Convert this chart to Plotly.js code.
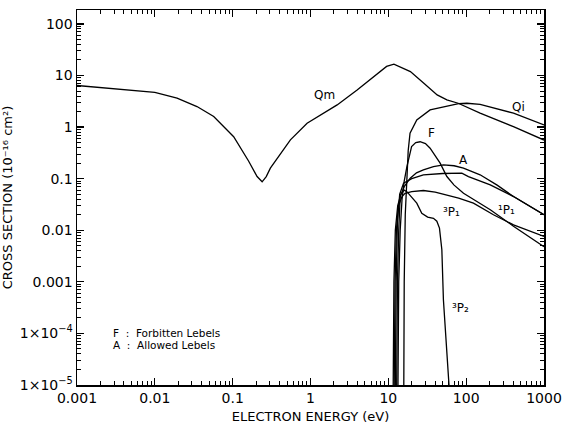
<!DOCTYPE html>
<html>
<head>
<meta charset="utf-8">
<script src="https://cdn.plot.ly/plotly-3.0.1.min.js"></script>
<style>html,body{margin:0;padding:0;background:#fff;}#chart{width:562px;height:432px;}</style>
</head>
<body>
<div id="chart"></div>
<script>
// ---- data ----
const qmE = [0.001, 0.01, 0.0193, 0.0348, 0.0571, 0.103, 0.16, 0.206, 0.239, 0.27, 0.305, 0.4, 0.552, 0.904, 2.2, 3.97, 6.5, 9.5, 11.8, 15, 19.2, 28.6, 42.4, 56.5, 79, 151, 405, 1000];
const qmQ = [6.4, 4.7, 3.63, 2.5, 1.6, 0.65, 0.22, 0.11, 0.087, 0.11, 0.16, 0.28, 0.565, 1.19, 2.69, 5.26, 9.5, 15, 16.6, 14, 11.9, 7.1, 4.2, 3.37, 2.9, 1.86, 1.02, 0.56];

const qiE = [15.8, 16.0, 16.5, 17.2, 18, 19, 23.2, 34.4, 56.5, 80, 102, 151, 406, 1000];
const qiQ = [1e-5, 1e-3, 0.02, 0.12, 0.35, 0.76, 1.38, 2.15, 2.57, 2.85, 2.9, 2.76, 1.86, 1.1];

const fE = [13.3, 13.6, 14.2, 15, 16, 17.3, 19.9, 22.5, 25.6, 30, 34.4, 40, 46.3, 56.5, 70, 92.5, 140, 204, 405, 1000];
const fQ = [1e-5, 1e-3, 0.01, 0.04, 0.09, 0.17, 0.42, 0.5, 0.52, 0.48, 0.39, 0.28, 0.2, 0.11, 0.075, 0.052, 0.035, 0.025, 0.012, 0.0048];

const aE = [12.8, 13.1, 13.6, 14.2, 16, 19.1, 23, 28.2, 38, 51, 70, 92.4, 151, 250, 406, 1000];
const aQ = [1e-5, 1e-3, 0.01, 0.045, 0.07, 0.102, 0.13, 0.148, 0.172, 0.185, 0.178, 0.16, 0.119, 0.075, 0.045, 0.02];

const p1E = [12.3, 12.6, 13.1, 14, 15.7, 20, 28.2, 50, 88, 107, 204, 406, 1000];
const p1Q = [1e-5, 1e-3, 0.015, 0.05, 0.082, 0.1, 0.119, 0.126, 0.128, 0.11, 0.076, 0.045, 0.02];

const t1E = [11.9, 12.2, 12.7, 13.5, 15, 16.4, 20, 28.2, 40, 56.5, 80, 124, 224, 406, 1000];
const t1Q = [1e-5, 1e-3, 0.01, 0.03, 0.045, 0.052, 0.056, 0.059, 0.055, 0.0486, 0.042, 0.0335, 0.02, 0.0127, 0.0076];

const t2E = [11.55, 11.8, 12.3, 13.2, 14.5, 16, 17.3, 20, 23.2, 26.9, 32, 38, 42, 45.4, 48.7, 51, 53.7, 56.5, 59.3, 62];
const t2Q = [1e-5, 1e-3, 0.01, 0.03, 0.05, 0.06, 0.056, 0.043, 0.0335, 0.0214, 0.018, 0.0171, 0.015, 0.011, 0.0042, 4.5e-4, 1.2e-4, 4.8e-5, 1.1e-5, 5e-6];

// tick positions; labels are formatted by Plotly as powers of ten (1, 10, 10^n)
const xTickVals = [0.001, 0.01, 0.1, 1, 10, 100, 1000];
const yTickVals = [1e-5, 1e-4, 1e-3, 1e-2, 1e-1, 1, 10, 100];

const curveLabels = ['Qm', 'Qi', 'F', 'A', '\u00B9P\u2081', '\u00B3P\u2081', '\u00B3P\u2082'];
const labelE = [1.5, 470, 36, 92.5, 334, 65.5, 84];
const labelQ = [4.2, 2.5, 0.76, 0.23, 0.0248, 0.023, 3.1e-4];

const noteLines = ['F  :  Forbitten Lebels', 'A  :  Allowed Lebels'];

const xTitle = 'ELECTRON ENERGY (eV)';
const yTitle = 'CROSS SECTION (10\u207B\u00B9\u2076 cm\u00B2)';

// ---- chart ----
const lineStyle = {color: '#000', width: 1.3};
const series = [[qmE, qmQ], [qiE, qiQ], [fE, fQ], [aE, aQ], [p1E, p1Q], [t1E, t1Q], [t2E, t2Q]];
const traces = series.map(s => ({x: s[0], y: s[1], type: 'scatter', mode: 'lines', line: lineStyle, hoverinfo: 'skip', showlegend: false}));

const font = {family: 'DejaVu Sans, Liberation Sans, sans-serif', color: '#000'};
const annotations = curveLabels.map((t, i) => ({
  x: Math.log10(labelE[i]), y: Math.log10(labelQ[i]), xref: 'x', yref: 'y',
  text: t, showarrow: false, font: Object.assign({}, font, {size: 12})
}));
noteLines.forEach((t, i) => annotations.push({
  x: 0.072, y: 0.138 - i * 0.032, xref: 'paper', yref: 'paper', xanchor: 'left', yanchor: 'middle',
  text: t, showarrow: false, font: Object.assign({}, font, {size: 10.5})
}));

function axis(range, vals, title, standoff) {
  return {
    type: 'log', range: range, showgrid: false, zeroline: false, showline: true, linecolor: '#000', linewidth: 1.5,
    mirror: 'allticks', ticks: 'inside', ticklen: 7, tickwidth: 1.2, tickcolor: '#000',
    tickmode: 'array', tickvals: vals, exponentformat: 'power', tickangle: 0,
    tickfont: Object.assign({}, font, {size: 14}),
    minor: {ticks: 'inside', ticklen: 4, tickwidth: 1, tickcolor: '#000', dtick: 'D1', showgrid: false},
    title: {text: title, font: Object.assign({}, font, {size: 13}), standoff: standoff}
  };
}

const layout = {
  width: 562, height: 432,
  margin: {l: 77, r: 18, t: 10, b: 47},
  paper_bgcolor: '#fff', plot_bgcolor: '#fff',
  font: font,
  xaxis: axis([-3, 3], xTickVals, xTitle, 6),
  yaxis: axis([-5, 2.27], yTickVals, yTitle, 5),
  annotations: annotations
};

Plotly.newPlot('chart', traces, layout, {staticPlot: true, displayModeBar: false});
</script>
</body>
</html>
